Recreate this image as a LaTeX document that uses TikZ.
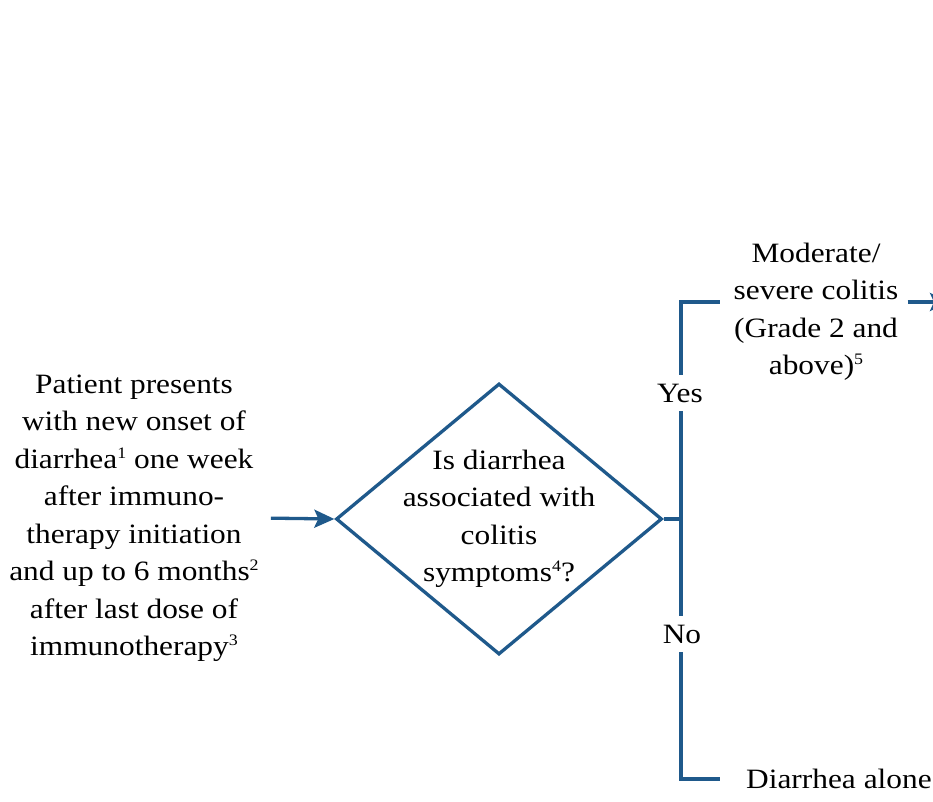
\documentclass[tikz,border=0pt]{standalone}
\usepackage{fontspec}
\setmainfont{Liberation Serif}[FakeStretch=1.12]
\usepackage{xcolor}
\usetikzlibrary{shapes.geometric,arrows.meta,positioning}
\definecolor{flowblue}{RGB}{31,89,139}
\newcommand{\fnref}[1]{\raisebox{10pt}{\fontsize{16}{16}\selectfont #1}}

\begin{document}
\begin{tikzpicture}[x=1pt,y=1pt,
	flow/.style={flowblue, line width=3.3pt},
	arr/.style={flow, -{Stealth[length=20pt,width=18pt,inset=4pt]}},
	txt/.style={align=center, inner sep=0pt, font=\fontsize{28}{37.5}\selectfont},
	decision/.style={diamond, draw=flowblue, line width=3.3pt, minimum width=326pt, minimum height=271pt, inner sep=0pt},
	answer/.style={txt, fill=white, inner xsep=2pt, inner ysep=9pt}]
	\useasboundingbox (0,0) rectangle (933,801);
	\clip (0,0) rectangle (933,801);
	
	\node[txt] (onset) at (134,283) {Patient presents\\with new onset of\\diarrhea\fnref{1} one week\\after immuno-\\therapy initiation\\and up to 6 months\fnref{2}\\after last dose of\\immunotherapy\fnref{3}};
	\node[decision, label={[txt]center:{Is diarrhea\\associated with\\colitis\\symptoms\fnref{4}?}}] (question) at (499,282) {};
	\draw[arr, shorten <=12pt] (onset.east) -- (question.west);
	
	% yes / no branches
	\coordinate (split) at (681,282);
	\coordinate (yesend) at (720,499);
	\coordinate (noend) at (720,22);
	\draw[flow] (question.east) -- (split);
	\draw[flow] (split) |- (yesend);
	\draw[flow] (split) |- (noend);
	\node[answer] (yes) at (680,408) {Yes};
	\node[answer] (no) at (682,167) {No};
	
	\node[txt] (severe) at (816,489) {Moderate/\\severe colitis\\(Grade 2 and\\above)\fnref{5}};
	\coordinate (offpage) at (950,499);
	\draw[arr, shorten <=9pt] (severe.east |- offpage) -- (offpage);
	\node[txt, right=26pt of noend] (alone) {Diarrhea alone};
\end{tikzpicture}
\end{document}
